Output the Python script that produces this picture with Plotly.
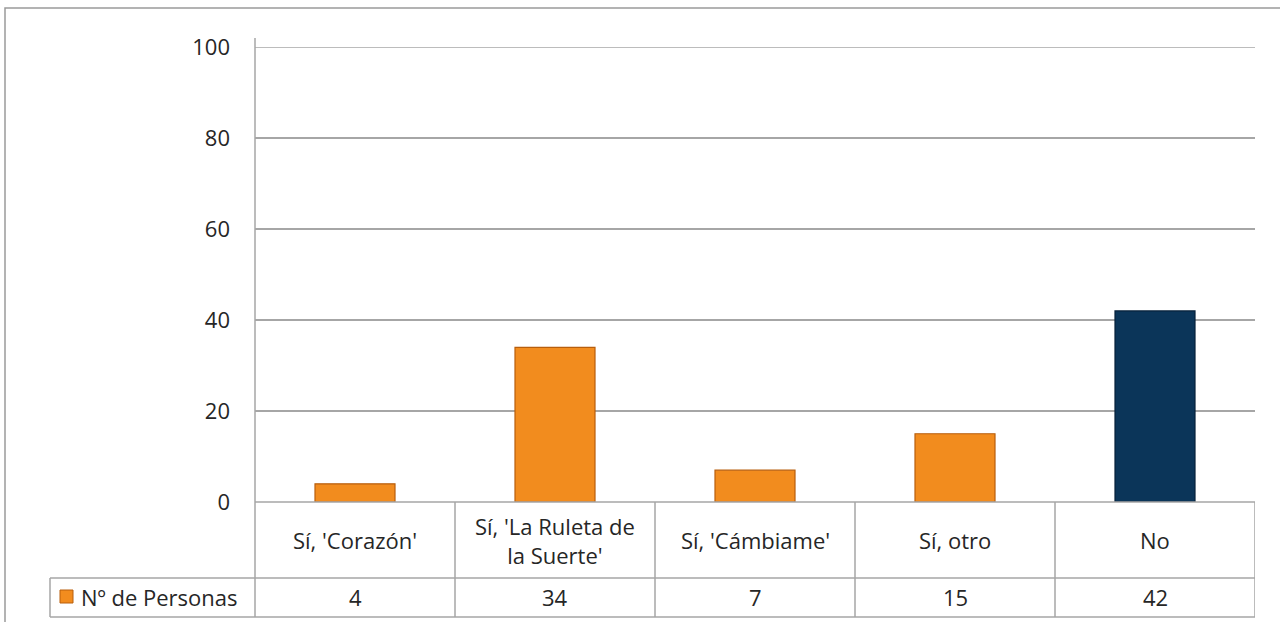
import plotly.graph_objects as go

# ---------------------------
# Données
# ---------------------------
categorias = ["Sí, 'Corazón'", "Sí, 'La Ruleta de<br>la Suerte'", "Sí, 'Cámbiame'", "Sí, otro", "No"]
personas = [4, 34, 7, 15, 42]
serie = "Nº de Personas"
y_ticks = [0, 20, 40, 60, 80, 100]

colores = ["#F28C1E", "#F28C1E", "#F28C1E", "#F28C1E", "#0B3559"]
bordes = ["#B85E0C", "#B85E0C", "#B85E0C", "#B85E0C", "#06203A"]

FONT = "Open Sans, Liberation Sans, sans-serif"
GRIS = "#A6A6A6"
TXT = "#262626"
FS = 22

# geometrie en pixels -> coordonnées papier
W, H = 1280, 622
L, R, T, B = 255, 25, 47, 120
pw, ph = W - L - R, H - T - B


def px_x(px):
    return (px - L) / pw


def px_y(py):
    return (H - B - py) / ph


x = list(range(len(categorias)))

fig = go.Figure()
fig.add_trace(go.Bar(
    x=x,
    y=personas,
    width=0.4,
    marker=dict(color=colores, line=dict(color=bordes, width=1.2)),
    name=serie,
    showlegend=False,
))

shapes = []
# cadre extérieur
shapes.append(dict(type="rect", xref="paper", yref="paper",
                   x0=px_x(5), x1=px_x(1290), y0=px_y(8), y1=px_y(640),
                   line=dict(color="#9A9A9A", width=1.5), layer="below"))
# ligne de grille du haut (100)
shapes.append(dict(type="line", xref="paper", yref="y",
                   x0=0, x1=1, y0=y_ticks[-1], y1=y_ticks[-1],
                   line=dict(color=GRIS, width=1.5), layer="below"))
# table: lignes horizontales
for py, x0 in [(H - B, L), (578, 50), (617, 50)]:
    shapes.append(dict(type="line", xref="paper", yref="paper",
                       x0=px_x(x0), x1=1, y0=px_y(py), y1=px_y(py),
                       line=dict(color=GRIS, width=1.5)))
# table: séparateurs verticaux entre catégories
for i in range(len(categorias)):
    shapes.append(dict(type="line", xref="x", yref="paper",
                       x0=i + 0.5, x1=i + 0.5, y0=px_y(H - B), y1=px_y(617),
                       line=dict(color=GRIS, width=1.5)))
# axe y prolongé jusqu'au bas de la table
shapes.append(dict(type="line", xref="paper", yref="paper",
                   x0=0, x1=0, y0=px_y(38), y1=px_y(617),
                   line=dict(color=GRIS, width=1.5)))
# bord gauche de la cellule légende
shapes.append(dict(type="line", xref="paper", yref="paper",
                   x0=px_x(50), x1=px_x(50), y0=px_y(578), y1=px_y(617),
                   line=dict(color=GRIS, width=1.5)))
# symbole de légende
shapes.append(dict(type="rect", xref="paper", yref="paper",
                   x0=px_x(60), x1=px_x(73), y0=px_y(590), y1=px_y(603),
                   fillcolor="#F28C1E", line=dict(color="#B85E0C", width=1)))

annotations = []
for i, (cat, val) in enumerate(zip(categorias, personas)):
    annotations.append(dict(x=i, y=px_y(540), xref="x", yref="paper", text=cat,
                            xanchor="center", yanchor="middle", showarrow=False,
                            font=dict(size=FS, color=TXT, family=FONT)))
    annotations.append(dict(x=i, y=px_y(597), xref="x", yref="paper", text=str(val),
                            xanchor="center", yanchor="middle", showarrow=False,
                            font=dict(size=FS, color=TXT, family=FONT)))
annotations.append(dict(x=px_x(79), y=px_y(597), xref="paper", yref="paper", text=serie,
                        xanchor="left", yanchor="middle", showarrow=False,
                        font=dict(size=FS, color=TXT, family=FONT)))

fig.update_layout(
    width=W, height=H,
    margin=dict(l=L, r=R, t=T, b=B),
    paper_bgcolor="white", plot_bgcolor="white",
    font=dict(family=FONT, size=FS, color=TXT),
    xaxis=dict(range=[-0.5, len(categorias) - 0.5], showticklabels=False,
               showgrid=False, zeroline=False, showline=False, fixedrange=True),
    yaxis=dict(range=[0, 100], tickvals=y_ticks, showgrid=True, gridcolor=GRIS,
               gridwidth=1.5, zeroline=False, showline=False, ticks="",
               ticklabelstandoff=24, fixedrange=True),
    shapes=shapes,
    annotations=annotations,
    bargap=0.6,
)

fig.write_html("out.html", config={"displayModeBar": False},
               post_script="document.body.style.margin='0';")
